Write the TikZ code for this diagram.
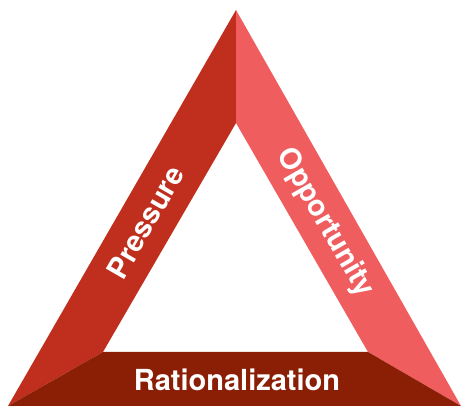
\documentclass[tikz,border=0pt]{standalone}
\usepackage{fontspec}
\setmainfont{TeX Gyre Heros}
\usepackage{xcolor}
\definecolor{cPress}{RGB}{192,46,29}
\definecolor{cOppor}{RGB}{240,93,95}
\definecolor{cRatio}{RGB}{139,31,5}
\usetikzlibrary{positioning}

\begin{document}
\begin{tikzpicture}[x=1pt, y=1pt,
    side/.style={text=white, font=\fontsize{29}{29}\selectfont\bfseries, inner sep=0pt}]
    \useasboundingbox (0,0) rectangle (461,406);

    % ---------- corners ----------
    \coordinate (top)  at (236,396);
    \coordinate (botL) at (8,0);
    \coordinate (botR) at (461,0);
    \coordinate (inTop)  at (236,283);
    \coordinate (inBotL) at (103,54);
    \coordinate (inBotR) at (368,54);

    % ---------- three faces ----------
    \fill[cPress] (top) -- (inTop) -- (inBotL) -- (botL) -- cycle;
    \fill[cOppor] (top) -- (botR) -- (inBotR) -- (inTop) -- cycle;
    \fill[cRatio] (botL) -- (inBotL) -- (inBotR) -- (botR) -- cycle;

    % ---------- labels ----------
    \node[side, rotate=60] (press) at (145.5,184) {Pressure};
    \node[side, rotate=-60] (oppor) at (325,183) {Opportunity};
    \node[side, anchor=base] (ratio) at (237,15) {Rationalization};

\end{tikzpicture}
\end{document}
